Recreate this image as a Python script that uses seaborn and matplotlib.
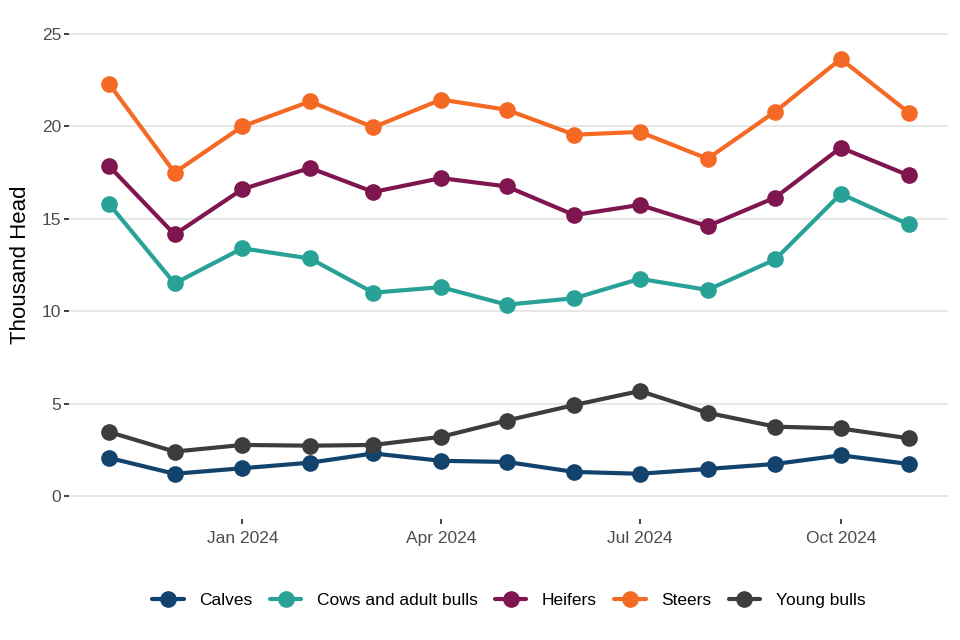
import matplotlib
matplotlib.use("Agg")
import matplotlib.pyplot as plt
import matplotlib.dates as mdates
import pandas as pd
import seaborn as sns

# ── Data (thousand head, monthly) ─────────────────────────────────────────────
months = pd.date_range("2023-11-01", "2024-11-01", freq="MS")
calves = [2.06, 1.2, 1.5, 1.8, 2.3, 1.9, 1.84, 1.3, 1.2, 1.46, 1.73, 2.2, 1.73]
cows = [15.8, 11.5, 13.4, 12.85, 11.0, 11.3, 10.35, 10.7, 11.75, 11.15, 12.8, 16.35, 14.7]
heifers = [17.85, 14.15, 16.6, 17.75, 16.45, 17.2, 16.75, 15.2, 15.75, 14.6, 16.15, 18.85, 17.35]
steers = [22.3, 17.5, 20.0, 21.35, 19.95, 21.45, 20.9, 19.55, 19.7, 18.25, 20.8, 23.65, 20.75]
young_bulls = [3.46, 2.4, 2.76, 2.72, 2.76, 3.2, 4.08, 4.92, 5.68, 4.5, 3.75, 3.65, 3.12]

categories = ["Calves", "Cows and adult bulls", "Heifers", "Steers", "Young bulls"]
colours = ["#12436D", "#28A197", "#801650", "#F46A25", "#3D3D3D"]

df = pd.concat([
    pd.DataFrame({"month": months, "value": vals, "category": cat})
    for cat, vals in zip(categories, [calves, cows, heifers, steers, young_bulls])
])

# ── Plot ─────────────────────────────────────────────────────────────────────
sns.set_theme(style="white")
plt.rcParams["font.family"] = ["Liberation Sans", "DejaVu Sans"]

fig = plt.figure(figsize=(9.6, 6.4), dpi=100)
ax = fig.add_axes([0.072, 0.189, 0.916, 0.794])

sns.lineplot(data=df, x="month", y="value", hue="category",
             hue_order=categories, palette=colours, marker="o",
             markersize=12, markeredgewidth=0, linewidth=3, ax=ax)

ax.set_ylim(-1.25, 26.25)
span = months[-1] - months[0]
ax.set_xlim(months[0] - span * 0.05, months[-1] + span * 0.05)
ax.set_yticks([0, 5, 10, 15, 20, 25])
ax.xaxis.set_major_locator(mdates.MonthLocator(bymonth=[1, 4, 7, 10]))
ax.xaxis.set_major_formatter(mdates.DateFormatter("%b %Y"))

ax.grid(axis="y", color="#E5E5E5", linewidth=1.3)
ax.grid(axis="x", visible=False)
for s in ax.spines.values():
    s.set_visible(False)
ax.tick_params(axis="both", length=3.5, width=1.3, color="#333333",
               labelsize=12.5, labelcolor="#4D4D4D", pad=2, bottom=True, left=True)
ax.tick_params(axis="x", pad=5)
ax.set_xlabel("")
ax.set_ylabel("Thousand Head", fontsize=16, color="black", labelpad=8)

handles, labels = ax.get_legend_handles_labels()
ax.legend_.remove()
fig.legend(handles, labels, loc="center", bbox_to_anchor=(0.53, 0.0625),
           ncol=5, frameon=False, fontsize=12.5, handlelength=1.8,
           columnspacing=1.0, handletextpad=0.9, labelcolor="black")

fig.savefig("out.png", dpi=100)
